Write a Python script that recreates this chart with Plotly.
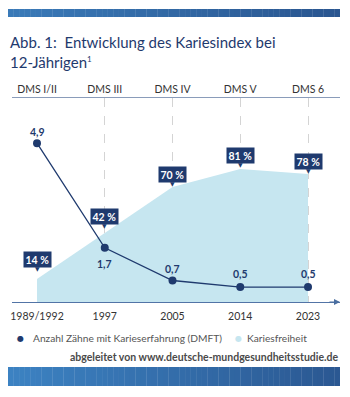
import plotly.graph_objects as go

# ---- data ----
years = ["1989/1992", "1997", "2005", "2014", "2023"]
studies = ["DMS I/II", "DMS III", "DMS IV", "DMS V", "DMS 6"]
dmft = [4.9, 1.7, 0.7, 0.5, 0.5]
caries_free = [14, 42, 70, 81, 78]
dmft_labels = ["4,9", "1,7", "0,7", "0,5", "0,5"]
cf_labels = ["14 %", "42 %", "70 %", "81 %", "78 %"]

# ---- style ----
W, H = 350, 397
ML, MR, MT, MB = 12, 10, 98, 95
NAVY = "#1f3a6e"
AREA = "#c6e6f0"
FONT = "Lato"
idx = list(range(len(years)))

def px_x(px):
    return (px - ML) / (W - ML - MR)

def px_y(py):
    return (H - MB - py) / (H - MT - MB)

fig = go.Figure()

fig.add_trace(go.Scatter(x=idx, y=caries_free, mode="lines", fill="tozeroy",
                         fillcolor=AREA, line=dict(width=0, color=AREA),
                         hoverinfo="skip", showlegend=False))
fig.add_trace(go.Scatter(x=idx, y=dmft, yaxis="y2", mode="lines+markers",
                         line=dict(color=NAVY, width=1.3),
                         marker=dict(color=NAVY, size=8),
                         showlegend=False))
# invisible trace to carry the top axis
fig.add_trace(go.Scatter(x=idx, y=caries_free, xaxis="x2", mode="markers",
                         marker=dict(opacity=0), hoverinfo="skip", showlegend=False))

annotations = []
# DMFT value labels
dmft_shift = [11, -16, 12, 13, 13]
for i, (v, t) in enumerate(zip(dmft, dmft_labels)):
    annotations.append(dict(x=i, y=v, xref="x", yref="y2", text=f"<b>{t}</b>",
                            showarrow=False, yanchor="middle", yshift=dmft_shift[i],
                            font=dict(family=FONT, size=10.5, color=NAVY)))
# caries-free boxes
box_gap = [11, 8, 4, 5, 4]
for i, (v, t) in enumerate(zip(caries_free, cf_labels)):
    annotations.append(dict(x=i, y=v, xref="x", yref="y", text=f"<b>{t}</b>",
                            showarrow=False, yanchor="bottom", yshift=box_gap[i],
                            bgcolor=NAVY, borderpad=1.5,
                            font=dict(family=FONT, size=10.5, color="white")))
    annotations.append(dict(x=i, y=v, xref="x", yref="y", text="▼",
                            showarrow=False, yanchor="top", yshift=box_gap[i] + 4,
                            borderpad=0,
                            font=dict(family="DejaVu Sans", size=6, color=NAVY)))

# axis arrow
annotations.append(dict(x=1.0, y=0, xref="paper", yref="paper", ax=-12, ay=0,
                        axref="pixel", ayref="pixel", showarrow=True, text="",
                        arrowhead=2, arrowsize=1, arrowwidth=1.2, arrowcolor="#4a6ea0"))

# title
annotations.append(dict(x=px_x(8), y=px_y(42), xref="paper", yref="paper",
                        xanchor="left", yanchor="middle", align="left", showarrow=False,
                        text="Abb. 1:  Entwicklung des Kariesindex bei",
                        font=dict(family=FONT, size=15, color=NAVY)))
annotations.append(dict(x=px_x(8), y=px_y(62), xref="paper", yref="paper",
                        xanchor="left", yanchor="middle", align="left", showarrow=False,
                        text="12-Jährigen<sup><span style='font-size:8px'>1</span></sup>",
                        font=dict(family=FONT, size=15, color=NAVY)))
# legend
annotations += [
    dict(x=px_x(20), y=px_y(338), xref="paper", yref="paper", text="●", showarrow=False,
         xanchor="center", yanchor="middle", font=dict(family="DejaVu Sans", size=8, color=NAVY)),
    dict(x=px_x(31), y=px_y(338), xref="paper", yref="paper",
         text="Anzahl Zähne mit Karieserfahrung (DMFT)", showarrow=False,
         xanchor="left", yanchor="middle", font=dict(family=FONT, size=10.2, color="#555555")),
    dict(x=px_x(239), y=px_y(338), xref="paper", yref="paper", text="●", showarrow=False,
         xanchor="center", yanchor="middle", font=dict(family="DejaVu Sans", size=8, color=AREA)),
    dict(x=px_x(245), y=px_y(338), xref="paper", yref="paper",
         text="Kariesfreiheit", showarrow=False,
         xanchor="left", yanchor="middle", font=dict(family=FONT, size=10.2, color="#555555")),
    dict(x=px_x(340), y=px_y(357), xref="paper", yref="paper",
         text="<b>abgeleitet von www.deutsche-mundgesundheitsstudie.de</b>", showarrow=False,
         xanchor="right", yanchor="middle", font=dict(family=FONT, size=10.5, color="#4a4a4a")),
]

# gradient bars
def hexrgb(h):
    h = h.lstrip("#")
    return tuple(int(h[i:i + 2], 16) for i in (0, 2, 4))

def gradient_bar(x0, x1, y0, y1, c0, c1, n=60):
    a, b = hexrgb(c0), hexrgb(c1)
    out = []
    for k in range(n):
        t = k / (n - 1)
        col = "rgb(%d,%d,%d)" % tuple(round(a[j] + (b[j] - a[j]) * t) for j in range(3))
        xa = x0 + (x1 - x0) * k / n
        xb = x0 + (x1 - x0) * (k + 1) / n + 0.3
        out.append(dict(type="rect", xref="paper", yref="paper",
                        x0=px_x(xa), x1=px_x(min(xb, x1)), y0=px_y(y1), y1=px_y(y0),
                        line=dict(width=0), fillcolor=col, layer="above"))
    return out

shapes = gradient_bar(8, 340, 9, 17, "#3a7ab8", "#2a5690") + \
         gradient_bar(8, 340, 367, 386, "#3c82c2", "#2b5892")

fig.update_layout(
    width=W, height=H,
    margin=dict(l=ML, r=MR, t=MT, b=MB),
    paper_bgcolor="white", plot_bgcolor="white",
    showlegend=False,
    xaxis=dict(range=[-0.369, 4.472], tickvals=idx, ticktext=years,
               showgrid=True, gridcolor="#d4d4d4", griddash="dash", gridwidth=1,
               showline=True, linecolor="#5274a6", linewidth=1.2,
               ticks="", zeroline=False, fixedrange=True, ticklabelstandoff=4,
               tickfont=dict(family=FONT, size=10.5, color="#333333")),
    xaxis2=dict(overlaying="x", side="top", matches="x", tickvals=idx, ticktext=studies,
                showgrid=False, showline=True, linecolor="#8a9cba", linewidth=1.2,
                ticks="", tickfont=dict(family=FONT, size=10.5, color="#333333")),
    yaxis=dict(range=[0, 124.2], visible=False, fixedrange=True),
    yaxis2=dict(range=[0.043, 6.28], overlaying="y", visible=False, fixedrange=True),
    annotations=annotations,
    shapes=shapes,
)

fig.write_html("out.html")
